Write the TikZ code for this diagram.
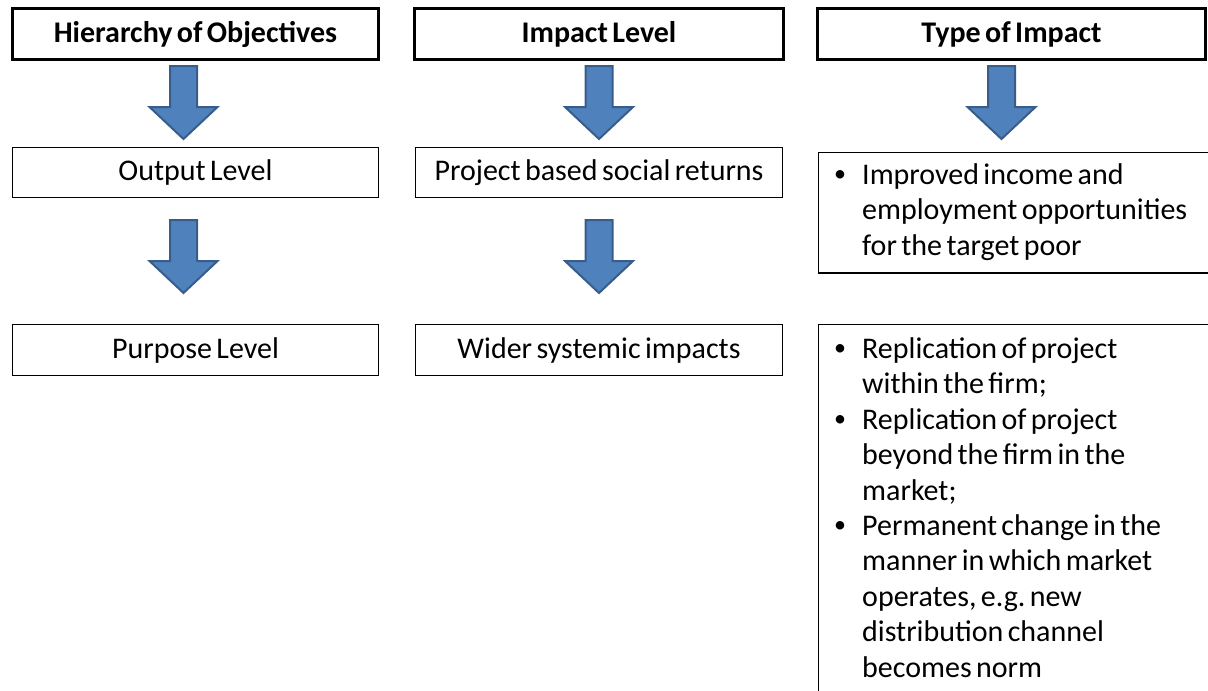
\documentclass[tikz,border=0pt]{standalone}
\usepackage{fontspec}
\setmainfont{Carlito}[WordSpace=0.65]
\usetikzlibrary{positioning}

\definecolor{arrowblue}{HTML}{4F81BD}
\definecolor{arrowedge}{HTML}{385D8A}

% small bullet for the lists
\newcommand{\bul}{\hspace{-3pt}\raisebox{3pt}{\fontsize{24}{24}\selectfont\textbullet}}

\begin{document}
\begin{tikzpicture}[x=1pt,y=-1pt,
    every node/.style={font=\fontsize{30}{35.4}\selectfont},
    headbox/.style={draw,line width=3.2pt,minimum height=50.8pt,inner sep=0pt,font=\fontsize{30}{35.4}\selectfont\bfseries},
    levelbox/.style={draw,line width=1.2pt,minimum height=50pt,inner sep=0pt},
    listbox/.style={draw,line width=1.2pt,anchor=north west,inner xsep=19pt,inner ysep=9.6pt},
    downarrow/.pic={\filldraw[fill=arrowblue,draw=arrowedge,line width=2pt]
        (-13.5,1) -- (13.5,1) -- (13.5,42) -- (34,42) -- (0,74) -- (-34,42) -- (-13.5,42) -- cycle;}]

    \useasboundingbox (0,0) rectangle (1208,691);
    \clip (0,0) rectangle (1208,691);

    % Headings
    \node[headbox,minimum width=365.8pt] (hier) at (195.5,34) {Hierarchy of Objectives};
    \node[headbox,minimum width=368.8pt] (level) at (599,34) {Impact Level};
    \node[headbox,minimum width=387.8pt] (type) at (1011.5,34) {Type of Impact};

    % Levels
    \node[levelbox,minimum width=365.8pt] (output) at (195.5,172.5) {Output Level};
    \node[levelbox,minimum width=365.8pt,minimum height=50.8pt] (purpose) at (195.5,350) {Purpose Level};
    \node[levelbox,minimum width=366.8pt] (social) at (599,172.5) {Project based social returns};
    \node[levelbox,minimum width=366.8pt,minimum height=50.8pt] (wider) at (599,350) {Wider systemic impacts};

    % Types of impact
    \node[listbox,inner ysep=4pt,minimum height=120.8pt] (income) at (817.6,151.6) {%
        \parbox{380pt}{\begin{tabular}{@{}p{25pt}@{}l@{}}
        \bul & Improved income and\\
             & employment opportunities\\
             & for the target poor
        \end{tabular}}};
    \node[listbox] (replic) at (817.6,323.6) {%
        \parbox[t][380pt][t]{380pt}{\begin{tabular}[t]{@{}p{25pt}@{}l@{}}
        \bul & Replication of project\\
             & within the firm;\\
        \bul & Replication of project\\
             & beyond the firm in the\\
             & market;\\
        \bul & Permanent change in the\\
             & manner in which market\\
             & operates, e.g.\ new\\
             & distribution channel\\
             & becomes norm
        \end{tabular}}};

    % Block arrows
    \pic at (183.5,65) {downarrow};
    \pic at (183.5,219) {downarrow};
    \pic at (599,65) {downarrow};
    \pic at (599,219) {downarrow};
    \pic at (1001.5,65) {downarrow};

\end{tikzpicture}
\end{document}
